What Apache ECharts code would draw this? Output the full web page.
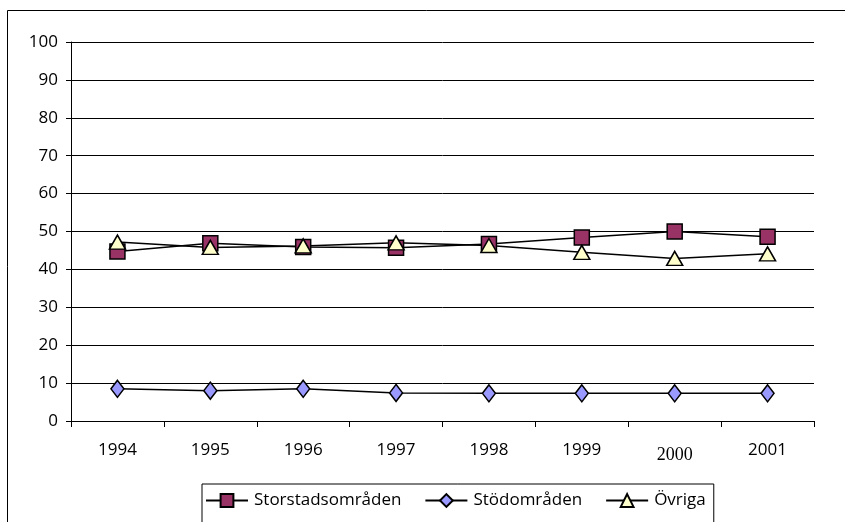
<!DOCTYPE html>
<html>
<head>
<meta charset="utf-8">
<script src="https://cdn.jsdelivr.net/npm/echarts@6/dist/echarts.min.js"></script>
<style>
  html, body { margin: 0; padding: 0; background: #fff; }
  #chart { width: 845px; height: 522px; }
</style>
</head>
<body>
<div id="chart"></div>
<script>
// Years along the x axis
const years = ['1994', '1995', '1996', '1997', '1998', '1999', '2000', '2001'];

// Series values (per cent)
const storstad = [44.7, 46.9, 45.9, 45.7, 46.7, 48.4, 50.0, 48.6];
const stod = [8.5, 8.0, 8.5, 7.4, 7.3, 7.3, 7.3, 7.3];
const ovriga = [47.2, 45.8, 46.2, 47.0, 46.3, 44.5, 42.9, 44.1];

// Y axis tick settings
const yMin = 0, yMax = 100, yStep = 10;

const font = 'Open Sans, Noto Sans, sans-serif';

const chart = echarts.init(document.getElementById('chart'), null, { renderer: 'canvas' });

function lineSeries(name, data, symbol, size, color) {
  return {
    name: name,
    type: 'line',
    data: data,
    symbol: symbol,
    symbolSize: size,
    showAllSymbol: true,
    lineStyle: { color: '#000', width: 1.5 },
    itemStyle: { color: color, borderColor: '#000', borderWidth: 1.5 },
    emphasis: { disabled: true },
    animation: false
  };
}

chart.setOption({
  animation: false,
  graphic: [{
    type: 'rect',
    shape: { x: 7.5, y: 10.5, width: 900, height: 600 },
    style: { fill: 'none', stroke: '#000', lineWidth: 1 },
    silent: true,
    z: -10
  }],
  grid: { left: 71, right: 31, top: 42, bottom: 101 },
  legend: {
    left: 202,
    top: 484,
    padding: [8, 8, 22, 3],
    itemGap: 23,
    itemWidth: 42,
    itemHeight: 16,
    backgroundColor: '#fff',
    borderColor: '#000',
    borderWidth: 1,
    textStyle: { fontFamily: font, fontSize: 17, color: '#000', padding: [0, 0, 0, 1] },
    data: ['Storstadsområden', 'Stödområden', 'Övriga']
  },
  xAxis: {
    type: 'category',
    data: years,
    boundaryGap: true,
    axisLine: { lineStyle: { color: '#000', width: 1 } },
    axisTick: { show: true, length: 6, lineStyle: { color: '#000' } },
    axisLabel: {
      margin: 21,
      fontFamily: font,
      fontSize: 17,
      color: '#000',
      formatter: v => v === '2000' ? '{s|' + v + '}' : v,
      rich: { s: { fontFamily: 'Liberation Serif, serif', fontSize: 18, padding: [4, 0, 0, 0], color: '#000' } }
    },
    splitLine: { show: false }
  },
  yAxis: {
    type: 'value',
    min: yMin,
    max: yMax,
    interval: yStep,
    axisLine: { show: true, lineStyle: { color: '#000', width: 1 } },
    axisTick: { show: true, length: 5, lineStyle: { color: '#000' } },
    axisLabel: { margin: 13, fontFamily: font, fontSize: 17, color: '#000' },
    splitLine: { show: true, lineStyle: { color: '#000', width: 1 } }
  },
  series: [
    lineSeries('Storstadsområden', storstad, 'rect', 15, '#993366'),
    lineSeries('Stödområden', stod, 'diamond', [13, 17], '#9999FF'),
    lineSeries('Övriga', ovriga, 'triangle', [16, 14], '#FFFFCC')
  ]
});
</script>
</body>
</html>
